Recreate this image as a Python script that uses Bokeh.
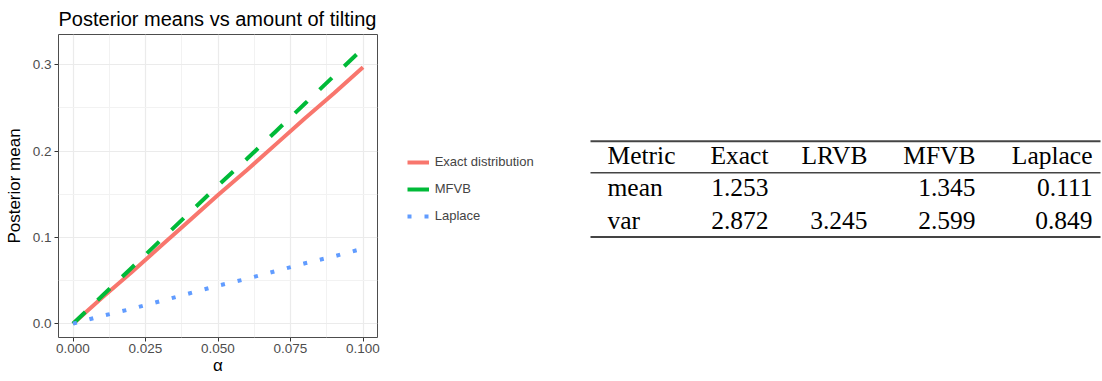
import numpy as np
from bokeh.plotting import figure
from bokeh.models import (Range1d, FixedTicker, NumeralTickFormatter, Legend,
                          LegendItem, ColumnDataSource)
from bokeh.layouts import row
from bokeh.embed import file_html
from bokeh.resources import INLINE
from bokeh.core.properties import value

# ---------------- data ----------------
alpha = [0.00, 0.01, 0.02, 0.03, 0.04, 0.05, 0.06, 0.07, 0.08, 0.09, 0.10]
exact = [0.000, 0.030, 0.059, 0.089, 0.119, 0.149, 0.178, 0.208, 0.238, 0.267, 0.297]
mfvb = [0.000, 0.032, 0.064, 0.096, 0.128, 0.160, 0.191, 0.223, 0.255, 0.287, 0.319]
laplace = [0.000, 0.009, 0.017, 0.026, 0.035, 0.044, 0.052, 0.061, 0.070, 0.078, 0.087]

x_ticks = [0.0, 0.025, 0.05, 0.075, 0.1]
x_minor = [0.0125, 0.0375, 0.0625, 0.0875]
y_ticks = [0.0, 0.1, 0.2, 0.3]
y_minor = [0.05, 0.15, 0.25]

series_labels = ["Exact distribution", "MFVB", "Laplace"]

table_header = ["Metric", "Exact", "LRVB", "MFVB", "Laplace"]
table_mean = ["mean", "1.253", "", "1.345", "0.111"]
table_var = ["var", "2.872", "3.245", "2.599", "0.849"]

FONT = "Liberation Sans"
H = 381
W1 = 390

COLORS = ["#F8766D", "#00BA38", "#619CFF"]

# ---------------- plot ----------------
p = figure(width=W1, height=H, x_range=Range1d(-0.005, 0.105),
           y_range=Range1d(-0.016, 0.335), output_backend="svg",
           toolbar_location=None, min_border_left=58, min_border_right=W1 - 377,
           min_border_top=33, min_border_bottom=44)
p.title.text = "Posterior means vs amount of tilting"
p.title.text_font = FONT
p.title.text_font_size = "20px"
p.title.text_font_style = "normal"
p.title.text_color = "black"
p.title.standoff = 10
p.title.offset = 0

p.outline_line_color = "#4D4D4D"
p.outline_line_width = 1
p.background_fill_color = "white"
p.border_fill_color = "white"

p.xaxis.ticker = FixedTicker(ticks=x_ticks, minor_ticks=x_minor)
p.yaxis.ticker = FixedTicker(ticks=y_ticks, minor_ticks=y_minor)
p.xgrid.ticker = FixedTicker(ticks=x_ticks, minor_ticks=x_minor)
p.ygrid.ticker = FixedTicker(ticks=y_ticks, minor_ticks=y_minor)
p.xaxis.formatter = NumeralTickFormatter(format="0.000")
p.yaxis.formatter = NumeralTickFormatter(format="0.0")

for g in (p.xgrid, p.ygrid):
    g.grid_line_color = "#EBEBEB"
    g.grid_line_width = 1.2
    g.minor_grid_line_color = "#F2F2F2"
    g.minor_grid_line_width = 1

for ax in (p.xaxis, p.yaxis):
    ax.axis_line_color = None
    ax.major_tick_line_color = "#333333"
    ax.major_tick_out = 4
    ax.major_tick_in = 0
    ax.minor_tick_line_color = None
    ax.major_label_text_font = FONT
    ax.major_label_text_font_size = "13.5px"
    ax.major_label_text_color = "#4D4D4D"
    ax.axis_label_text_font = FONT
    ax.axis_label_text_font_size = "17px"
    ax.axis_label_text_font_style = "normal"
    ax.axis_label_text_color = "black"
p.xaxis.major_label_standoff = 2
p.xaxis.axis_label_standoff = 0
p.yaxis.major_label_standoff = 3
p.yaxis.axis_label_standoff = 6
p.xaxis.axis_label = "α"
p.yaxis.axis_label = "Posterior mean"

src = ColumnDataSource(dict(alpha=alpha, exact=exact, mfvb=mfvb, laplace=laplace))
p.line("alpha", "exact", source=src, line_color=COLORS[0], line_width=4)
p.line("alpha", "mfvb", source=src, line_color=COLORS[1], line_width=4,
       line_dash="17 17")
p.line("alpha", "laplace", source=src, line_color=COLORS[2], line_width=4,
       line_dash="4 13")

# ---------------- legend + table panel ----------------
# page-pixel frame: x W1..1102, y 33..337 (same vertical frame as the plot)
t = figure(title=None, width=1102 - W1, height=H, x_range=Range1d(W1, 1102),
           y_range=Range1d(H - 337, H - 33), output_backend="svg",
           toolbar_location=None, min_border_left=0, min_border_right=0,
           min_border_top=33, min_border_bottom=44)
t.axis.visible = False
t.grid.visible = False
t.outline_line_color = None
t.background_fill_color = "white"

# legend keys (series drawn with the same source; they fall outside this
# panel's pixel ranges, so only their legend keys show)
k1 = t.line("alpha", "exact", source=src, line_color=COLORS[0], line_width=4)
k2 = t.line("alpha", "mfvb", source=src, line_color=COLORS[1], line_width=4)
k3 = t.line("alpha", "laplace", source=src, line_color=COLORS[2], line_width=4,
            line_dash="4 13")
legend = Legend(items=[LegendItem(label=series_labels[0], renderers=[k1]),
                       LegendItem(label=series_labels[1], renderers=[k2]),
                       LegendItem(label=series_labels[2], renderers=[k3])],
                location=(406.7 - W1, 337 - 225.7))
legend.label_text_font = FONT
legend.label_text_font_size = "13px"
legend.glyph_width = 22
legend.glyph_height = 20
legend.label_height = 20
legend.spacing = 7
legend.padding = 0
legend.margin = 0
legend.label_standoff = 6
legend.border_line_color = None
legend.background_fill_alpha = 0
t.add_layout(legend)

col_right = [0, 768, 867, 975, 1092]
metric_left = 607
baselines = [154, 187, 219.5]
rows = [table_header, table_mean, table_var]


def fy(v):
    return H - v


xs, ys, txt, al = [], [], [], []
for b, r in zip(baselines, rows):
    for j, cell in enumerate(r):
        if j == 0:
            xs.append(metric_left); al.append("left")
        else:
            xs.append(col_right[j]); al.append("right")
        ys.append(fy(b))
        txt.append(cell)
tsrc = ColumnDataSource(dict(x=xs, y=ys, text=txt, align=al))
t.text("x", "y", text="text", text_align="align", source=tsrc,
       text_baseline="alphabetic", text_font=value("Liberation Serif"),
       text_font_size="25.5px", text_color="black")

rule_y = [fy(140), fy(171.7), fy(236.2)]
t.segment(x0=[590, 590, 590], y0=rule_y, x1=[1100, 1100, 1100],
          y1=rule_y, line_color="#444444", line_width=[2, 1.5, 2])

layout = row(p, t, spacing=0)
open("out.html", "w").write(file_html(layout, INLINE))
